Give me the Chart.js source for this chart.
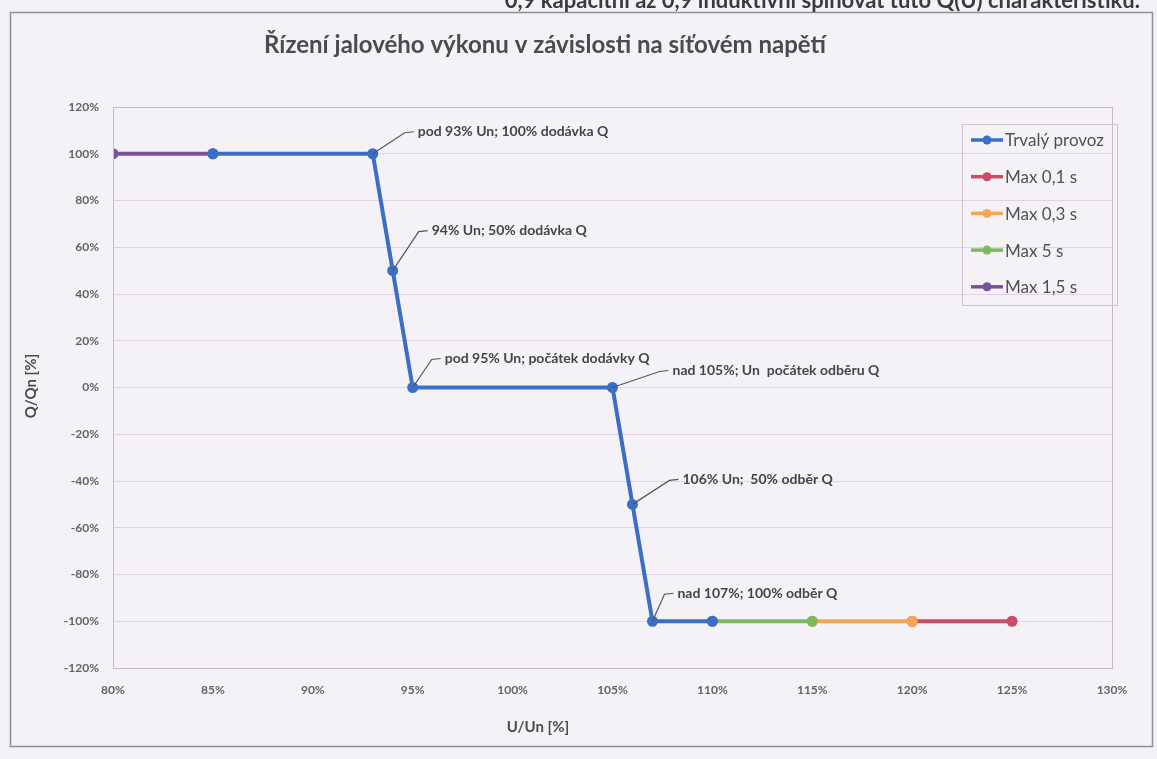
<!DOCTYPE html>
<html><head><meta charset="utf-8">
<script src="https://cdn.jsdelivr.net/npm/chart.js@4"></script>
<style>
html,body{margin:0;padding:0;background:#f4f2f6;}
#wrap{position:relative;width:1157px;height:759px;overflow:hidden;}
canvas{display:block;}
</style></head><body>
<div id="wrap"><canvas id="c" width="1157" height="759"></canvas></div>
<script>
// ---- data ----
const chartTitle = 'Řízení jalového výkonu v závislosti na síťovém napětí';
const xAxisTitle = 'U/Un [%]';
const yAxisTitle = 'Q/Qn [%]';
const topText = '0,9 kapacitní až 0,9 induktivní splňovat tuto Q(U) charakteristiku.';
const seriesNames = ['Trvalý provoz', 'Max 0,1 s', 'Max 0,3 s', 'Max 5 s', 'Max 1,5 s'];
const trvalyX = [85, 93, 94, 95, 105, 106, 107, 110];
const trvalyY = [100, 100, 50, 0, 0, -50, -100, -100];
const max01X = [120, 125];
const max01Y = [-100, -100];
const max03X = [115, 120];
const max03Y = [-100, -100];
const max5X = [110, 115];
const max5Y = [-100, -100];
const max15X = [80, 85];
const max15Y = [100, 100];
const labelIndex = [1, 2, 3, 4, 5, 6];
const labelTexts = [
  'pod 93% Un; 100% dodávka Q',
  '94% Un; 50% dodávka Q',
  'pod 95% Un; počátek dodávky Q',
  'nad 105%; Un  počátek odběru Q',
  '106% Un;  50% odběr Q',
  'nad 107%; 100% odběr Q'
];
const xTicksMin = 80, xTicksMax = 130, xStep = 5;
const yTicksMin = -120, yTicksMax = 120, yStep = 20;

// ---- styles ----
const colors = ['#3b6fc6', '#c84e66', '#f4a653', '#80b862', '#7a519c'];
const labelOffsets = [[45,-22],[39,-40],[32,-29],[60,-17],[50,-25],[25,-28]];
const FONT = 'Lato, "Open Sans", sans-serif';

function pts(xs, ys){ return xs.map((x,i)=>({x:x, y:ys[i]})); }
function ds(name, xs, ys, color, order){
  return {label:name, data:pts(xs,ys), borderColor:color, backgroundColor:color,
    borderWidth:4, pointRadius:5.5, pointBorderWidth:0, pointBackgroundColor:color,
    showLine:true, fill:false, tension:0, order:order};
}

const decor = {
  id:'decor',
  afterDraw(chart){
    const ctx = chart.ctx, a = chart.chartArea;
    const xs = chart.scales.x, ys = chart.scales.y;
    ctx.save();
    // plot border
    ctx.strokeStyle = '#c9bcca'; ctx.lineWidth = 1;
    ctx.strokeRect(Math.round(a.left)+0.5, Math.round(a.top)+0.5, Math.round(a.right-a.left), Math.round(a.bottom-a.top));
    // outer border
    ctx.strokeStyle = '#8f8f9c'; ctx.lineWidth = 1.5;
    ctx.strokeRect(10.5, 12.5, 1142, 734);
    // top doc text (clipped)
    ctx.fillStyle = '#3a3a42'; ctx.font = 'bold 22px ' + FONT; ctx.textAlign = 'right'; ctx.textBaseline = 'alphabetic';
    ctx.fillText(topText, 1140, 8);
    // title
    ctx.fillStyle = '#4a4a55'; ctx.font = 'bold 24px ' + FONT; ctx.textAlign = 'center'; ctx.textBaseline = 'middle';
    ctx.fillText(chartTitle, 545, 45);
    // axis titles
    ctx.font = 'bold 15px ' + FONT; ctx.fillStyle = '#4a4a55';
    ctx.fillText(xAxisTitle, 538, 727);
    ctx.save(); ctx.translate(31, 386); ctx.rotate(-Math.PI/2); ctx.fillText(yAxisTitle, 0, 0); ctx.restore();
    // data labels with leader lines
    ctx.font = 'bold 14px ' + FONT; ctx.textAlign = 'left'; ctx.textBaseline = 'middle';
    labelIndex.forEach((idx, k) => {
      const px = xs.getPixelForValue(trvalyX[idx]);
      const py = ys.getPixelForValue(trvalyY[idx]);
      const tx = px + labelOffsets[k][0], ty = py + labelOffsets[k][1];
      ctx.strokeStyle = '#55555f'; ctx.lineWidth = 1.2;
      ctx.beginPath(); ctx.moveTo(px, py); ctx.lineTo(tx - 13, ty + 1); ctx.lineTo(tx - 4, ty); ctx.stroke();
      ctx.fillStyle = '#44444c';
      ctx.fillText(labelTexts[k], tx, ty);
    });
    // legend
    ctx.strokeStyle = '#cfc4d0'; ctx.lineWidth = 1;
    ctx.strokeRect(962.5, 124.5, 155, 181);
    ctx.font = '17px ' + FONT; ctx.textBaseline = 'middle';
    seriesNames.forEach((n, i) => {
      const y = 140 + i * 36.7;
      ctx.strokeStyle = colors[i]; ctx.lineWidth = 3.5;
      ctx.beginPath(); ctx.moveTo(971, y); ctx.lineTo(1003, y); ctx.stroke();
      ctx.fillStyle = colors[i];
      ctx.beginPath(); ctx.arc(987, y, 4.5, 0, Math.PI*2); ctx.fill();
      ctx.fillStyle = '#50505a';
      ctx.fillText(n, 1005, y + 1);
    });
    ctx.restore();
  }
};

new Chart(document.getElementById('c'), {
  type: 'scatter',
  data: { datasets: [
    ds(seriesNames[0], trvalyX, trvalyY, colors[0], 0),
    ds(seriesNames[1], max01X, max01Y, colors[1], 4),
    ds(seriesNames[2], max03X, max03Y, colors[2], 3),
    ds(seriesNames[3], max5X, max5Y, colors[3], 2),
    ds(seriesNames[4], max15X, max15Y, colors[4], 1)
  ]},
  options: {
    responsive: false, animation: false, devicePixelRatio: 1,
    layout: { padding: { left: 0, top: 107, right: 45, bottom: 0 } },
    plugins: { legend: { display: false }, title: { display: false }, tooltip: { enabled: false } },
    scales: {
      x: {
        type: 'linear', min: xTicksMin, max: xTicksMax,
        grid: { display: false, drawTicks: false },
        border: { display: false },
        ticks: { stepSize: xStep, padding: 15, color: '#626270', font: { family: FONT, size: 12, weight: 'bold' },
          callback: v => v + '%' , maxRotation: 0},
        afterFit(s){ s.height = 91; }
      },
      y: {
        type: 'linear', min: yTicksMin, max: yTicksMax,
        grid: { color: '#e3d2e2', lineWidth: 1, drawTicks: false },
        border: { display: false },
        ticks: { stepSize: yStep, padding: 14, color: '#626270', font: { family: FONT, size: 12, weight: 'bold' },
          callback: v => v + '%' },
        afterFit(s){ s.width = 113; }
      }
    }
  },
  plugins: [decor]
});
</script>
</body></html>
